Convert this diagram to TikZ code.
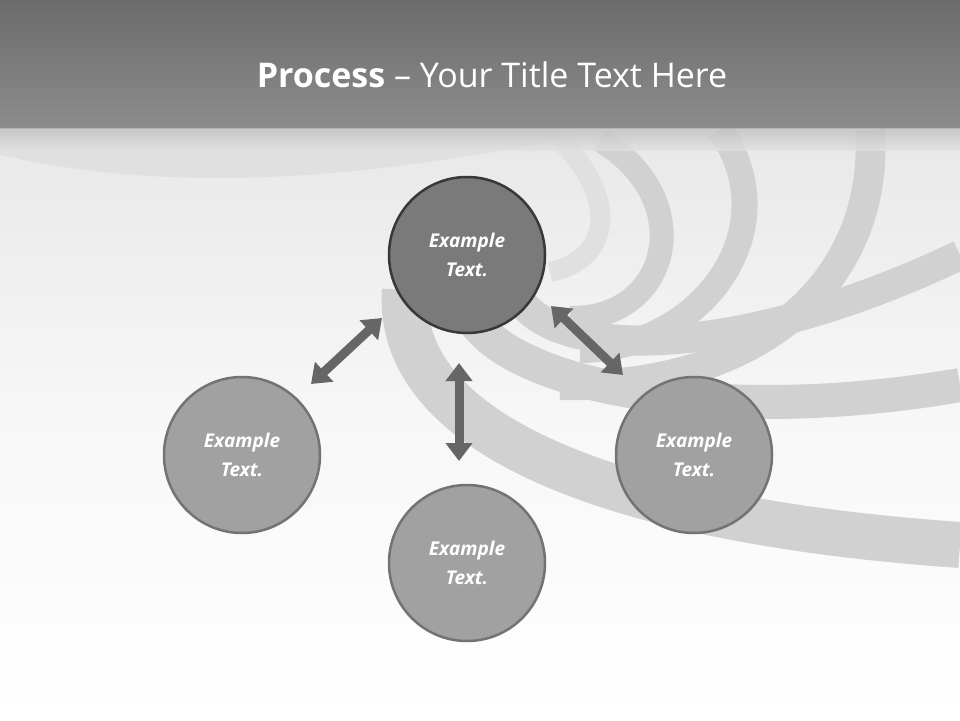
\documentclass[tikz,border=0pt]{standalone}
\usepackage{fontspec}
\setmainfont{Open Sans}
\usetikzlibrary{arrows.meta}
\begin{document}
\begin{tikzpicture}[x=1pt,y=-1pt,
  circ/.style={circle,minimum size=156pt,line width=2.5pt,draw=black!55,fill=black!37,text=white,font=\fontsize{19}{29}\selectfont\bfseries\itshape,align=center},
  topc/.style={circ,fill=black!52,draw=black!78},
  dbl/.style={line width=9pt,draw=black!60,{Triangle[width=26pt,length=18pt]}-{Triangle[width=26pt,length=18pt]}},
  band/.style={draw=black!18,line cap=butt}]
\useasboundingbox (0,0) rectangle (960,720);
\shade[top color=black!9,bottom color=white,middle color=black!3] (0,130) rectangle (960,720);
% swirl bands
\draw[band,line width=46pt] (405,290) .. controls (395,430) and (600,520) .. (960,545);
\draw[band,line width=34pt] (465,300) .. controls (480,380) and (700,430) .. (960,385);
\draw[band,line width=30pt] (520,300) .. controls (560,360) and (740,360) .. (960,255);
\draw[band,line width=30pt] (870,130) .. controls (880,280) and (760,390) .. (560,385);
\draw[band,line width=26pt] (720,130) .. controls (790,230) and (700,350) .. (580,350);
\draw[band,line width=24pt] (600,140) .. controls (700,200) and (670,320) .. (570,318);
\draw[black!12,line width=20pt] (560,140) .. controls (620,200) and (610,260) .. (550,272);
\fill[black!12] (0,155) .. controls (200,200) and (400,170) .. (560,140) -- (560,130) -- (0,130) -- cycle;
% title bar
\shade[top color=black!58,bottom color=black!45] (0,0) rectangle (960,128);
\shade[top color=black!25,bottom color=black!12,opacity=0.8] (0,128) rectangle (960,150);
\node[text=white,font=\fontsize{34}{40}\selectfont] (title) at (492,75) {\textbf{Process} – Your Title Text Here};
% circles
\node[topc] (c1) at (467,255) {Example\\Text.};
\node[circ] (c2) at (242,455) {Example\\Text.};
\node[circ] (c3) at (467,563) {Example\\Text.};
\node[circ] (c4) at (694,455) {Example\\Text.};
% arrows
\coordinate (a1) at (382,318); \coordinate (b1) at (311,384);
\coordinate (a2) at (459,363); \coordinate (b2) at (459,461);
\coordinate (a3) at (551,306); \coordinate (b3) at (623,375);
\draw[dbl] (a1) -- (b1);
\draw[dbl] (a2) -- (b2);
\draw[dbl] (a3) -- (b3);
\end{tikzpicture}
\end{document}
